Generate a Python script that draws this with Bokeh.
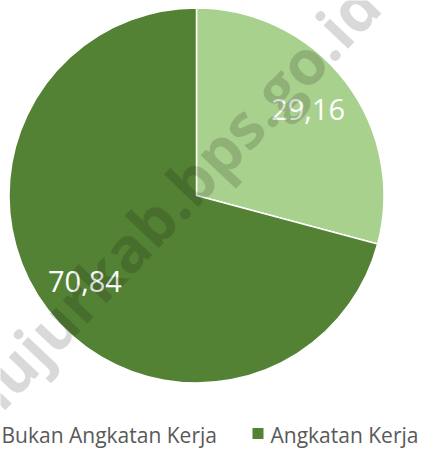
import math
from bokeh.plotting import figure
from bokeh.models import Range1d, ColumnDataSource
from bokeh.core.properties import value
from bokeh.embed import file_html
from bokeh.resources import INLINE

# ---- data ----
categories = ["Bukan Angkatan Kerja", "Angkatan Kerja"]
values = [29.16, 70.84]
value_labels = ["29,16", "70,84"]
colors = ["#A9D18E", "#548235"]
watermark = "mujurkab.bps.go.id"

W, H = 422, 454
p = figure(width=W, height=H, output_backend="svg", toolbar_location=None,
           x_range=Range1d(0, W), y_range=Range1d(0, H), min_border=0,
           outline_line_color=None, background_fill_color="white")
p.axis.visible = False
p.grid.visible = False

cx, cy, r = 196, 259, 187.5
total = sum(values)
starts, ends, lx, ly = [], [], [], []
cum = 0.0
for v in values:
    a0 = math.pi / 2 - 2 * math.pi * (cum + v) / total
    a1 = math.pi / 2 - 2 * math.pi * cum / total
    starts.append(a0)
    ends.append(a1)
    mid = (a0 + a1) / 2
    lx.append(cx + 0.75 * r * math.cos(mid))
    ly.append(cy + 0.75 * r * math.sin(mid))
    cum += v

src = ColumnDataSource(dict(start=starts, end=ends, color=colors, cat=categories,
                            lx=lx, ly=ly, lab=value_labels))
p.wedge(x=cx, y=cy, radius=r, start_angle="start", end_angle="end",
        fill_color="color", line_color="white", line_width=1.5, source=src)

p.text(x="lx", y="ly", text="lab", source=src, text_color="white",
       text_font=value("Open Sans"), text_font_size="29px",
       text_align="center", text_baseline="middle")

# watermark
p.text(x=[367], y=[461], text=[watermark], angle=math.radians(46.5),
       text_color="black", text_alpha=0.15, text_font=value("Open Sans"),
       text_font_style="bold", text_font_size="62px",
       text_align="right", text_baseline="alphabetic")

# legend
leg_y = 20
p.text(x=[1], y=[leg_y], text=[categories[0]], text_color="#595959",
       text_font=value("Open Sans"), text_font_size="21px",
       text_align="left", text_baseline="middle")
p.scatter(x=[257.5], y=[leg_y + 1], marker="square", size=11,
          fill_color=colors[1], line_color=None)
p.text(x=[270], y=[leg_y], text=[categories[1]], text_color="#595959",
       text_font=value("Open Sans"), text_font_size="21px",
       text_align="left", text_baseline="middle")

open("out.html", "w").write(file_html(p, INLINE))
